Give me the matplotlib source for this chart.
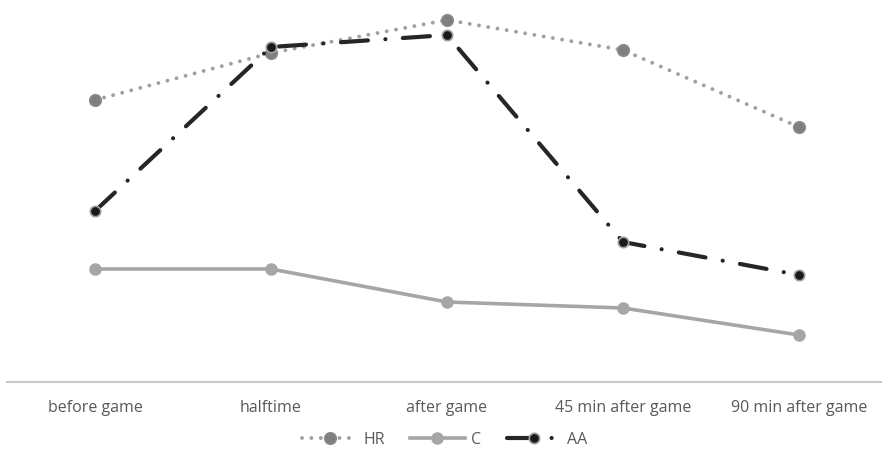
import matplotlib
matplotlib.use("Agg")
import matplotlib.pyplot as plt

categories = ["before game", "halftime", "after game", "45 min after game", "90 min after game"]
hr = [282, 329, 362, 332, 255]
c = [113, 113, 80, 74, 47]
aa = [171, 335, 347, 140, 107]

plt.rcParams['font.family'] = ['Open Sans', 'DejaVu Sans']

W, H = 882, 454
fig = plt.figure(figsize=(W/100, H/100), dpi=100)
ax = fig.add_axes([7/W, (H-382)/H, 880/W, 382/H])
x = list(range(len(categories)))

ax.plot(x, hr, color="#a0a0a0", lw=2.8, ls=(0, (0.01, 2.4)), dash_capstyle='round',
        marker='o', ms=8.5, mfc="#7f7f7f", mec="#8c8c8c", label="HR", zorder=3,
        clip_on=False)
ax.plot(x, c, color="#a6a6a6", lw=2.6, marker='o', ms=8, mfc="#a6a6a6", mec="#a6a6a6",
        label="C", zorder=2, clip_on=False)
ax.plot(x, aa, color="#262626", lw=3, ls=(0, (6.5, 4.2, 0.01, 4.2)), dash_capstyle='round',
        marker='o', ms=7.5, mfc="#1a1a1a", mec="#a0a0a0", mew=1.2, label="AA", zorder=4,
        clip_on=False)

ax.set_xlim(-0.5, 4.5)
ax.set_ylim(0, 382)
for s in ["top", "right", "left"]:
    ax.spines[s].set_visible(False)
ax.spines["bottom"].set_color("#c8c8c8")
ax.spines["bottom"].set_linewidth(1.5)
ax.set_yticks([])
ax.set_xticks(x)
ax.set_xticklabels(categories, fontsize=11.5, color="#595959")
ax.tick_params(axis='x', length=0, pad=13)

leg = fig.legend(loc="center", bbox_to_anchor=(445/W, 1 - 440/H), ncol=3,
                 frameon=False, fontsize=11.5, handlelength=3.4, columnspacing=1.6,
                 handletextpad=0.4)
for t in leg.get_texts():
    t.set_color("#595959")

fig.savefig("out.png", dpi=100)
